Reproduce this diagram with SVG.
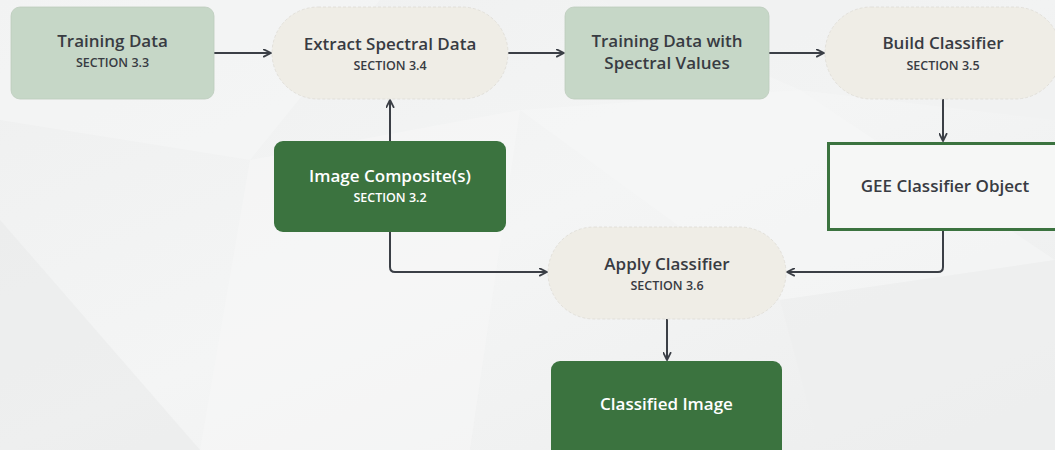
<svg xmlns="http://www.w3.org/2000/svg" width="1055" height="450" viewBox="0 0 1055 450">
  <defs>
    <linearGradient id="bg" x1="0" y1="0" x2="1" y2="1">
      <stop offset="0" stop-color="#eeefef"/>
      <stop offset="0.5" stop-color="#f4f5f5"/>
      <stop offset="1" stop-color="#eceded"/>
    </linearGradient>
    <marker id="arrow" viewBox="0 0 10 10" refX="9" refY="5" markerWidth="9" markerHeight="9" markerUnits="userSpaceOnUse" orient="auto">
      <path d="M1,1 L9,5 L1,9" fill="none" stroke="#3b3f46" stroke-width="2" stroke-linecap="round" stroke-linejoin="round"/>
    </marker>
    <style>
      .title { font-family: "Open Sans", "Noto Sans", sans-serif; font-weight: 600; font-size: 17px; fill: #383b42; text-anchor: middle; }
      .sub { font-family: "Open Sans", "Noto Sans", sans-serif; font-weight: 600; font-size: 12.5px; fill: #383b42; text-anchor: middle; }
      .light { fill: #ffffff; }
      .sage { fill: #c6d7c7; stroke: #bccbbd; stroke-width: 0.8; }
      .beige { fill: #efede6; stroke: #dedcd5; stroke-width: 0.8; stroke-dasharray: 3 2; }
      .dark { fill: #3b733f; }
      .outline { fill: #f6f7f6; stroke: #3b733f; stroke-width: 3; }
      .edge { fill: none; stroke: #3b3f46; stroke-width: 2; marker-end: url(#arrow); }
    </style>
  </defs>

  <!-- background with faint low-poly facets -->
  <rect width="1055" height="450" fill="url(#bg)"/>
  <g opacity="0.5">
    <polygon points="0,0 380,0 250,160 0,120" fill="#f7f8f8"/>
    <polygon points="250,160 520,110 470,450 200,450" fill="#f8f8f8"/>
    <polygon points="0,220 200,450 0,450" fill="#e9eaea"/>
    <polygon points="520,110 800,90 1055,260 780,300" fill="#f7f8f8"/>
    <polygon points="780,300 1055,260 1055,450 820,450" fill="#eeefef"/>
    <polygon points="600,0 1055,0 1055,120 800,90" fill="#f1f2f2"/>
  </g>

  <!-- connectors -->
  <g id="connectors">
    <path class="edge" d="M214,53 H271"/>
    <path class="edge" d="M508,53 H564"/>
    <path class="edge" d="M769,53 H824"/>
    <path class="edge" d="M943,99 V141"/>
    <path class="edge" d="M390,141 V100"/>
    <path class="edge" d="M390,232 V267 Q390,272 395,272 H547"/>
    <path class="edge" d="M943,230 V267 Q943,272 938,272 H787"/>
    <path class="edge" d="M667,319 V360"/>
  </g>

  <g id="training-data">
    <rect class="sage" x="11" y="7" width="203" height="92" rx="9"/>
    <text class="title" x="112.5" y="47">Training Data</text>
    <text class="sub" x="112.5" y="67">SECTION 3.3</text>
  </g>

  <g id="extract-spectral">
    <rect class="beige" x="272" y="7" width="236" height="92" rx="46"/>
    <text class="title" x="390" y="50">Extract Spectral Data</text>
    <text class="sub" x="390" y="70">SECTION 3.4</text>
  </g>

  <g id="training-spectral">
    <rect class="sage" x="565" y="7" width="204" height="92" rx="9"/>
    <text class="title" x="667" y="47">Training Data with</text>
    <text class="title" x="667" y="69">Spectral Values</text>
  </g>

  <g id="build-classifier">
    <rect class="beige" x="825" y="7" width="236" height="92" rx="46"/>
    <text class="title" x="943" y="49">Build Classifier</text>
    <text class="sub" x="943" y="70">SECTION 3.5</text>
  </g>

  <g id="image-composite">
    <rect class="dark" x="274" y="141" width="232" height="91" rx="9"/>
    <text class="title light" x="390" y="182">Image Composite(s)</text>
    <text class="sub light" x="390" y="202">SECTION 3.2</text>
  </g>

  <g id="gee-classifier">
    <rect class="outline" x="828.5" y="143.5" width="240" height="86"/>
    <text class="title" x="945" y="192">GEE Classifier Object</text>
  </g>

  <g id="apply-classifier">
    <rect class="beige" x="548" y="227" width="238" height="92" rx="46"/>
    <text class="title" x="667" y="270">Apply Classifier</text>
    <text class="sub" x="667" y="290">SECTION 3.6</text>
  </g>

  <g id="classified-image">
    <rect class="dark" x="551" y="361" width="231" height="100" rx="9"/>
    <text class="title light" x="666.5" y="410">Classified Image</text>
  </g>
</svg>
